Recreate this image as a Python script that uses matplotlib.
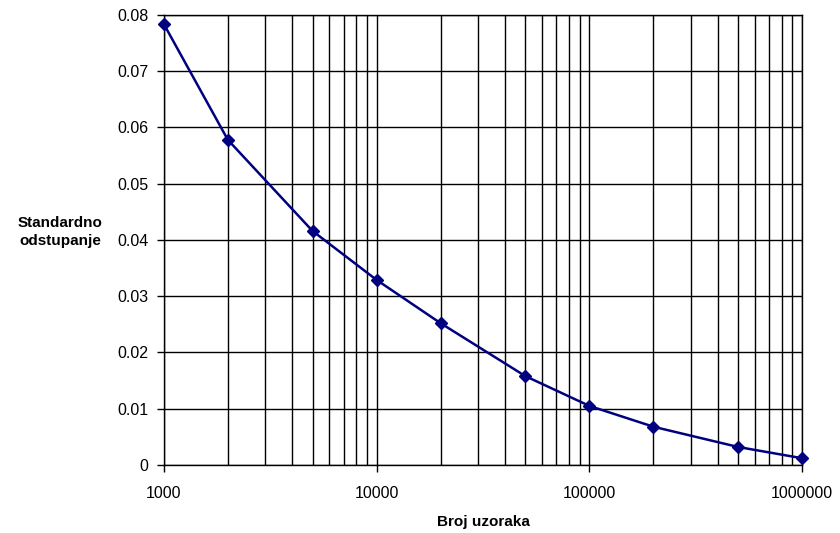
import matplotlib.pyplot as plt
import numpy as np
from matplotlib.ticker import FixedLocator, NullFormatter

plt.rcParams['font.family'] = ['Liberation Sans', 'DejaVu Sans']

broj_uzoraka = [1000, 2000, 5000, 10000, 20000, 50000, 100000, 200000, 500000, 1000000]
odstupanje = [0.0784, 0.0578, 0.0416, 0.0329, 0.0252, 0.0158, 0.0105, 0.0068, 0.0032, 0.0012]
y_ticks = [0, 0.01, 0.02, 0.03, 0.04, 0.05, 0.06, 0.07, 0.08]
y_labels = ['0', '0.01', '0.02', '0.03', '0.04', '0.05', '0.06', '0.07', '0.08']
x_ticks = [1000, 10000, 100000, 1000000]
x_labels = ['1000', '10000', '100000', '1000000']

fig = plt.figure(figsize=(8.4, 5.33), dpi=100)
ax = fig.add_axes([0.195, 0.1276, 0.76, 0.8443])

ax.plot(broj_uzoraka, odstupanje, color='#000080', linewidth=1.8,
        marker='D', markersize=6, markerfacecolor='#000080', markeredgecolor='#000080',
        zorder=3, clip_on=False)

ax.set_xscale('log')
ax.set_xlim(1000, 1000000)
ax.set_ylim(0, 0.08)

ax.set_yticks(y_ticks)
ax.set_yticklabels(y_labels, fontsize=11.5)
ax.set_xticks(x_ticks)
ax.set_xticklabels(x_labels, fontsize=11.5)
minor = [m * 10 ** e for e in range(3, 6) for m in range(2, 10)]
ax.xaxis.set_minor_locator(FixedLocator(minor))
ax.xaxis.set_minor_formatter(NullFormatter())

ax.tick_params(axis='both', which='major', direction='out', length=5, width=1, color='black')
ax.tick_params(axis='x', which='major', pad=10)
ax.tick_params(axis='y', which='major', pad=6)
ax.tick_params(axis='x', which='minor', length=0)

ax.grid(True, which='both', axis='x', color='black', linewidth=1)
ax.grid(True, which='major', axis='y', color='black', linewidth=1)
ax.set_axisbelow(True)

for s in ax.spines.values():
    s.set_color('black')
    s.set_linewidth(1)

fig.text(0.575, 0.02, 'Broj uzoraka', fontsize=11, fontweight='bold',
         ha='center', va='center')
fig.text(0.072, 0.565, 'Standardno\nodstupanje', fontsize=11, fontweight='bold',
         ha='center', va='center', linespacing=1.3)

plt.savefig('out.png', dpi=100)
